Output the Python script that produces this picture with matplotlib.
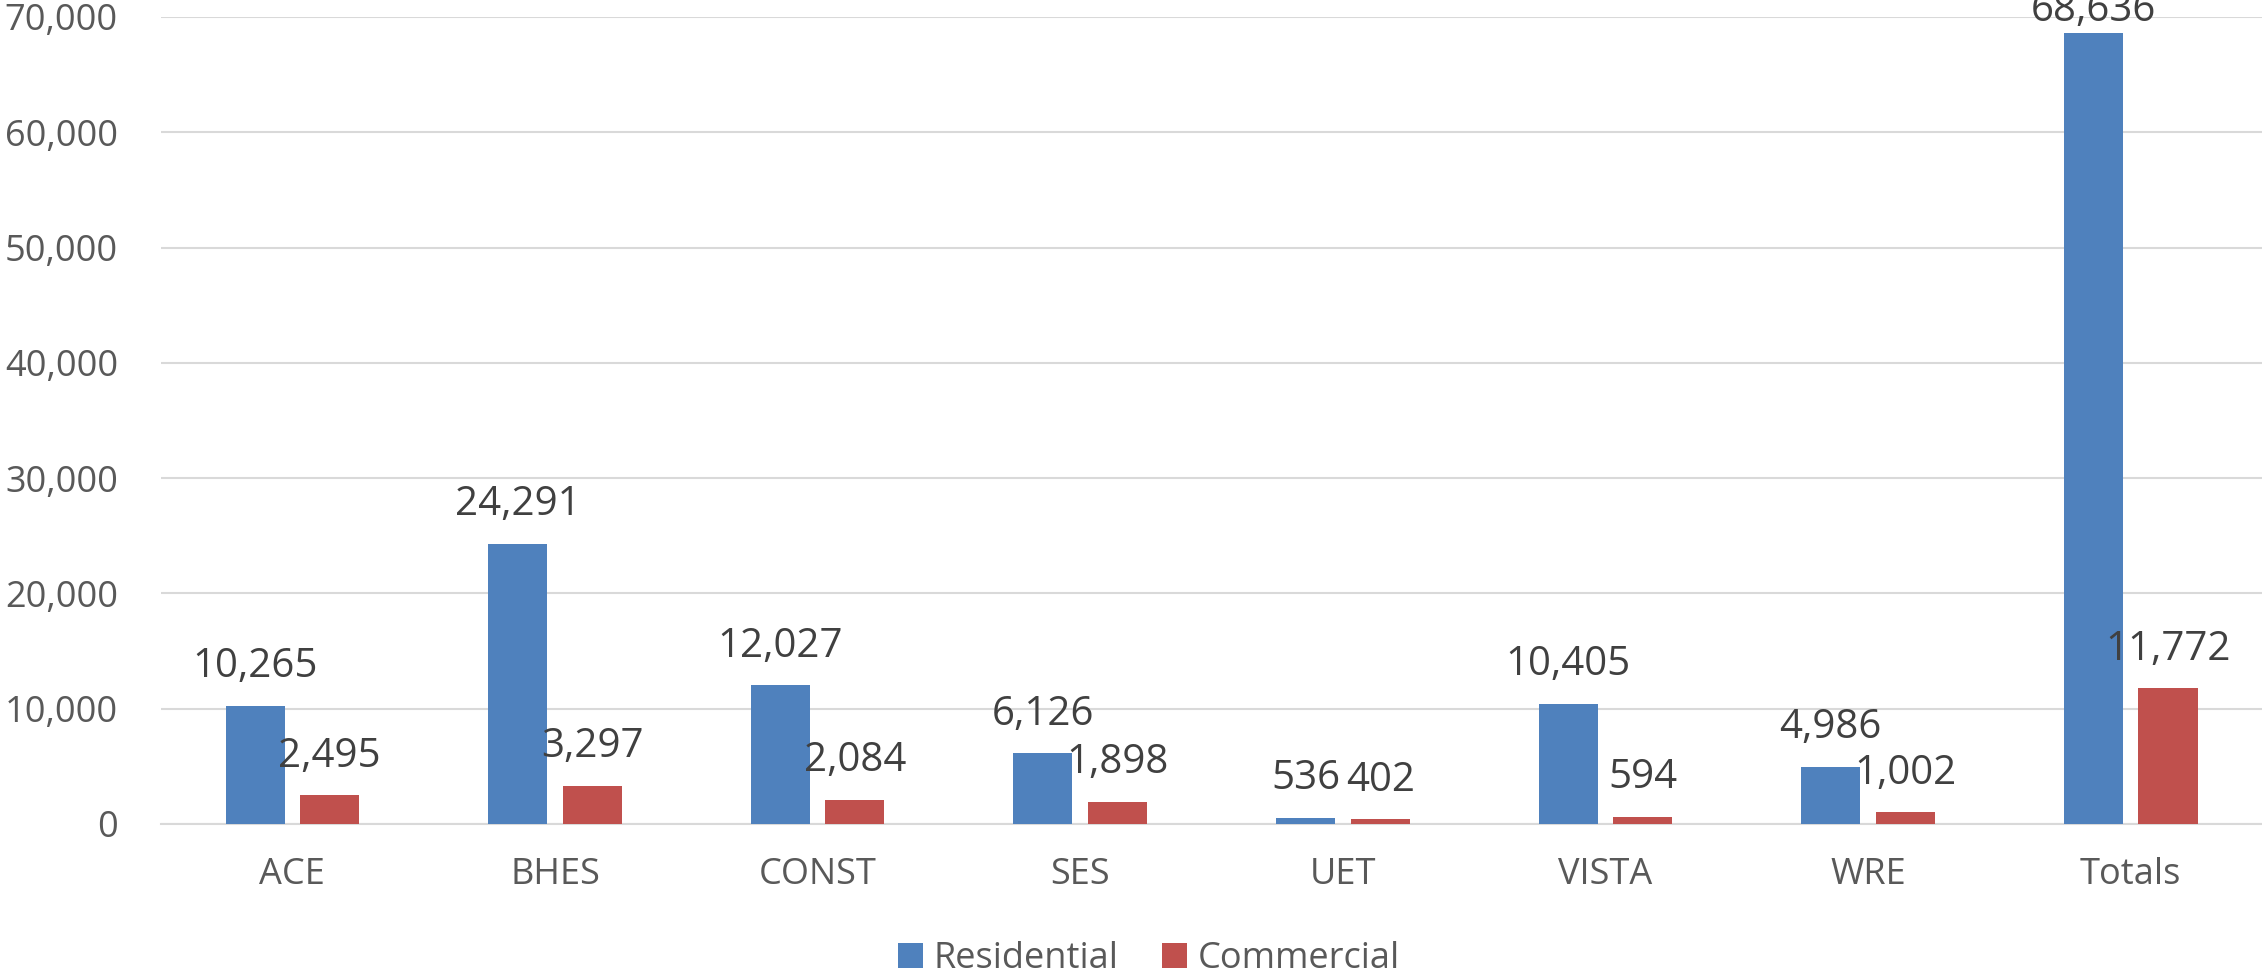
import numpy as np
import matplotlib
matplotlib.use("Agg")
import matplotlib.pyplot as plt
from matplotlib.ticker import FuncFormatter

# Chart data
categories = ["ACE", "BHES", "CONST", "SES", "UET", "VISTA", "WRE", "Totals"]
residential = [10265, 24291, 12027, 6126, 536, 10405, 4986, 68636]
commercial = [2495, 3297, 2084, 1898, 402, 594, 1002, 11772]

blue = "#4F81BD"
red = "#C0504D"

plt.rcParams["font.family"] = ["Open Sans", "DejaVu Sans"]

fig = plt.figure(figsize=(22.62, 9.8), dpi=100)
ax = fig.add_axes([0.0712, 0.1592, 0.9288, 0.8235])

x = np.arange(len(categories))
width = 0.225
offset = 0.142
ymax = 70000

bars_r = ax.bar(x - offset, residential, width, color=blue, label="Residential", zorder=3)
bars_c = ax.bar(x + offset, commercial, width, color=red, label="Commercial", zorder=3)

# data labels above bars (the tallest one gets pushed down a bit, like excel does)
for bars, vals in [(bars_r, residential), (bars_c, commercial)]:
    for b, v in zip(bars, vals):
        dy = 28 if v < 0.95 * ymax else 16
        ax.annotate(f"{v:,}", (b.get_x() + b.get_width() / 2, v),
                    xytext=(0, dy), textcoords="offset points",
                    ha="center", va="center", fontsize=29, color="#404040",
                    annotation_clip=False)

ax.set_xlim(-0.5, len(categories) - 0.5)
ax.set_ylim(0, ymax)
ax.set_yticks(np.arange(0, ymax + 1, 10000))
ax.yaxis.set_major_formatter(FuncFormatter(lambda v, p: f"{int(v):,}"))
ax.set_xticks(x)
ax.set_xticklabels(categories)

ax.tick_params(axis="y", length=0, pad=31, labelsize=26, labelcolor="#595959")
ax.tick_params(axis="x", length=0, pad=24, labelsize=26, labelcolor="#595959")

ax.grid(axis="y", color="#D9D9D9", linewidth=1.5, zorder=0)
for s in ["top", "right", "left"]:
    ax.spines[s].set_visible(False)
ax.spines["bottom"].set_color("#D9D9D9")
ax.spines["bottom"].set_linewidth(1.5)

fig.legend(loc="center", bbox_to_anchor=(0.508, 0.0214), ncol=2, frameon=False,
           fontsize=26, labelcolor="#595959", handlelength=0.7, handleheight=0.7,
           handletextpad=0.3, columnspacing=1.2)

fig.savefig("out.png", dpi=100)
